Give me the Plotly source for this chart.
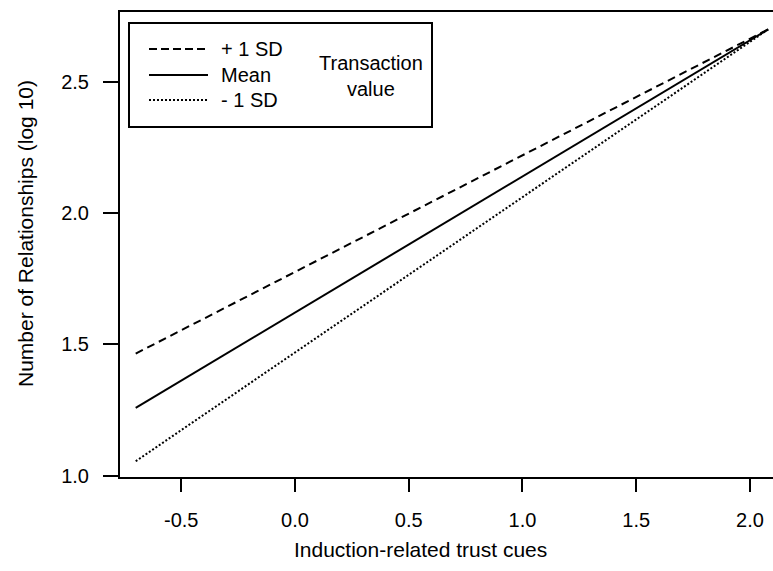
import plotly.graph_objects as go

# ---- data ----
x_start_end = [-0.70, 2.08]
plus_sd = [1.465, 2.70]
mean_vals = [1.258, 2.70]
minus_sd = [1.055, 2.70]

x_ticks = [-0.5, 0.0, 0.5, 1.0, 1.5, 2.0]
y_ticks = [1.0, 1.5, 2.0, 2.5]
legend_labels = ["+ 1 SD", "Mean", "- 1 SD"]
legend_title = "Transaction<br>value"
x_title = "Induction-related trust cues"
y_title = "Number of Relationships (log 10)"

W, H = 773, 571
L, R, T, B = 120, 0, 12, 94
FONT = "Liberation Sans, Arial, sans-serif"


def px(xp):
    return (xp - L) / (W - L - R)


def py(yp):
    return (H - B - yp) / (H - T - B)


fig = go.Figure()
fig.add_trace(go.Scatter(x=x_start_end, y=plus_sd, mode="lines",
                         line=dict(color="black", width=2, dash="8px,5px"),
                         showlegend=False))
fig.add_trace(go.Scatter(x=x_start_end, y=mean_vals, mode="lines",
                         line=dict(color="black", width=2),
                         showlegend=False))
fig.add_trace(go.Scatter(x=x_start_end, y=minus_sd, mode="lines",
                         line=dict(color="black", width=2, dash="2px,2px"),
                         showlegend=False))

# legend box
shapes = [dict(type="rect", xref="paper", yref="paper",
               x0=px(129), x1=px(432), y0=py(127), y1=py(23),
               line=dict(color="black", width=2), fillcolor="white")]
dashes = ["8px,4px", "solid", "2px,2px"]
ly = [49, 75, 100]
annots = []
for lab, d, yy in zip(legend_labels, dashes, ly):
    shapes.append(dict(type="line", xref="paper", yref="paper",
                       x0=px(149), x1=px(208), y0=py(yy), y1=py(yy),
                       line=dict(color="black", width=2, dash=d)))
    annots.append(dict(xref="paper", yref="paper", x=px(219), y=py(yy),
                       text=lab, showarrow=False, xanchor="left", yanchor="middle",
                       font=dict(family=FONT, size=20, color="black")))
annots.append(dict(xref="paper", yref="paper", x=px(371), y=py(76),
                   text=legend_title, showarrow=False, xanchor="center", yanchor="middle",
                   align="center",
                   font=dict(family=FONT, size=20, color="black")))
annots.append(dict(xref="paper", yref="paper", x=px(420), y=py(549),
                   text=x_title, showarrow=False, xanchor="center", yanchor="middle",
                   font=dict(family=FONT, size=21, color="black")))
annots.append(dict(xref="paper", yref="paper", x=px(25), y=py(234),
                   text=y_title, showarrow=False, xanchor="center", yanchor="middle",
                   textangle=-90,
                   font=dict(family=FONT, size=21, color="black")))

fig.update_layout(
    width=W, height=H,
    margin=dict(l=L, r=R, t=T, b=B),
    plot_bgcolor="white", paper_bgcolor="white",
    shapes=shapes, annotations=annots,
    font=dict(family=FONT, size=20, color="black"),
)
fig.update_xaxes(range=[-0.769, 2.101], showgrid=False, zeroline=False,
                 showline=True, mirror=True, linecolor="black", linewidth=2,
                 ticks="outside", ticklen=13, tickwidth=1.5, tickcolor="black",
                 tickvals=x_ticks, ticktext=[f"{v:.1f}" for v in x_ticks],
                 ticklabelstandoff=11,
                 tickfont=dict(family=FONT, size=20, color="black"))
fig.update_yaxes(range=[0.995, 2.766], showgrid=False, zeroline=False,
                 showline=True, mirror=False, linecolor="black", linewidth=2,
                 ticks="outside", ticklen=15, tickwidth=1.5, tickcolor="black",
                 tickvals=y_ticks, ticktext=[f"{v:.1f}" for v in y_ticks],
                 ticklabelstandoff=10,
                 tickfont=dict(family=FONT, size=20, color="black"))

fig.write_html("out.html", config={"displayModeBar": False},
               post_script="document.body.style.margin='0';document.body.style.overflow='hidden';")
